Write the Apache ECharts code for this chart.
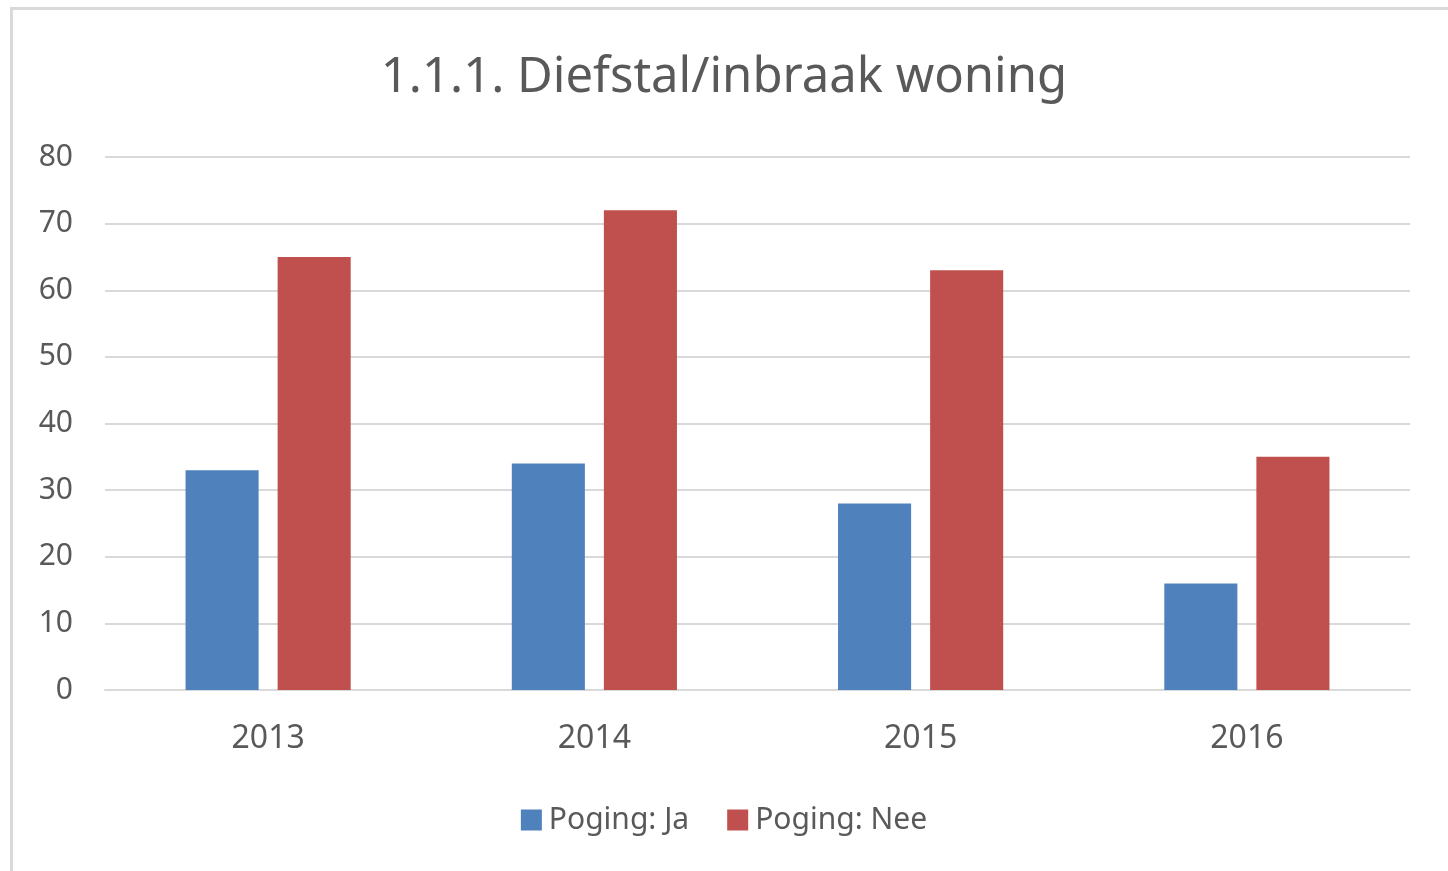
<!DOCTYPE html>
<html>
<head>
<meta charset="utf-8">
<script src="https://cdn.jsdelivr.net/npm/echarts@6/dist/echarts.min.js"></script>
<style>
  html, body { margin: 0; padding: 0; background: #fff; }
  #frame { position: absolute; left: 10px; top: 7px; width: 1460px; height: 900px;
           border-left: 3px solid #d9d9d9; border-top: 3px solid #d9d9d9; }
  #chart { position: absolute; left: 0; top: 0; width: 1448px; height: 871px; }
</style>
</head>
<body>
<div id="frame"></div>
<div id="chart"></div>
<script>
var years = ["2013", "2014", "2015", "2016"]
var pogingJa = [33, 34, 28, 16]
var pogingNee = [65, 72, 63, 35]
var yTicks = { min: 0, max: 80, interval: 10 }

var font = "Noto Sans"
var chart = echarts.init(document.querySelector("#chart"))
var option = {
    backgroundColor: "transparent",
    animation: false,
    title: {
        text: "1.1.1. Diefstal/inbraak woning",
        left: "center",
        top: 49,
        textStyle: { fontFamily: font, fontSize: 49, fontWeight: "normal", color: "#595959" }
    },
    legend: {
        bottom: 31,
        left: "center",
        icon: "rect",
        itemWidth: 21,
        itemHeight: 21,
        itemGap: 38,
        textStyle: { fontFamily: font, fontSize: 30, color: "#595959", padding: [0, 0, 0, 2] },
        data: ["Poging: Ja", "Poging: Nee"]
    },
    grid: { left: 105, right: 38, top: 157, bottom: 181 },
    xAxis: {
        type: "category",
        data: years,
        axisTick: { show: false },
        axisLine: { lineStyle: { color: "#d9d9d9", width: 2 } },
        axisLabel: { fontFamily: font, fontSize: 32, color: "#595959", margin: 33 }
    },
    yAxis: {
        type: "value",
        min: yTicks.min,
        max: yTicks.max,
        interval: yTicks.interval,
        splitLine: { lineStyle: { color: "#d9d9d9", width: 2 } },
        axisLabel: { fontFamily: font, fontSize: 30, color: "#595959", margin: 32 }
    },
    series: [{
        name: "Poging: Ja",
        type: "bar",
        data: pogingJa,
        barWidth: "22.4%",
        barGap: "26%",
        itemStyle: { color: "#4f81bd" }
    }, {
        name: "Poging: Nee",
        type: "bar",
        data: pogingNee,
        barWidth: "22.4%",
        barGap: "26%",
        itemStyle: { color: "#c0504d" }
    }]
}
chart.setOption(option)
</script>
</body>
</html>
